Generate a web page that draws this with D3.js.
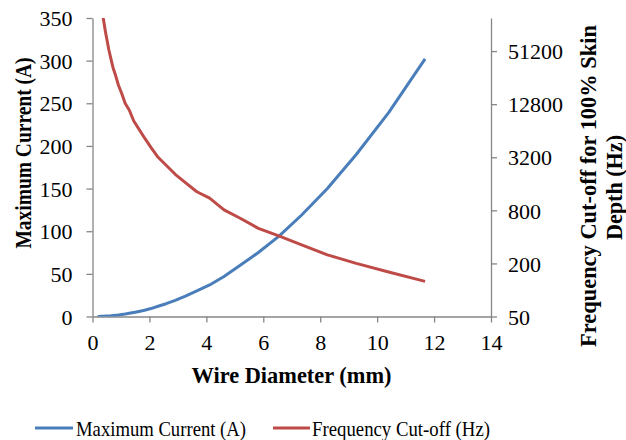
<!DOCTYPE html>
<html>
<head>
<meta charset="utf-8">
<script src="https://cdn.jsdelivr.net/npm/d3@7"></script>
<style>
  html, body { margin: 0; padding: 0; background: #fff; }
  svg { display: block; }
</style>
</head>
<body>
<svg id="chart" width="626" height="440"></svg>
<script>
// AWG wire sizes (33 up to 0000): diameter, max current for power transmission,
// and the highest frequency with 100% skin depth.
const diameters = [0.18034, 0.2032, 0.22606, 0.254, 0.28702, 0.32004, 0.36068, 0.40386, 0.45466,
  0.51054, 0.57404, 0.64516, 0.7239, 0.8128, 0.91186, 1.02362, 1.15062, 1.29032, 1.45034,
  1.62814, 1.8288, 2.05232, 2.30378, 2.58826, 2.90576, 3.2639, 3.66522, 4.1148, 4.62026,
  5.18922, 5.82676, 6.54304, 7.34822, 8.25246, 9.26592, 10.40384, 11.684];
const maxCurrent = [0.072, 0.091, 0.113, 0.142, 0.182, 0.226, 0.288, 0.361, 0.457,
  0.577, 0.729, 0.92, 1.2, 1.5, 1.8, 2.3, 2.9, 3.7, 4.7,
  5.9, 7.4, 9.3, 12, 15, 19, 24, 30, 37, 47,
  60, 75, 94, 119, 150, 190, 239, 302];
const freqCutoff = [540000, 430000, 340000, 270000, 210000, 170000, 130000, 107000, 85000,
  68000, 53000, 42000, 33000, 27000, 21000, 17000, 13000, 11000, 8250,
  6700, 5300, 4150, 3200, 2600, 2050, 1650, 1300, 1100, 810,
  650, 500, 410, 325, 250, 200, 160, 125];

const xTicks = [0, 2, 4, 6, 8, 10, 12, 14];
const leftTicks = [0, 50, 100, 150, 200, 250, 300, 350];
const rightTicks = [50, 200, 800, 3200, 12800, 51200];

const seriesNames = ["Maximum Current (A)", "Frequency Cut-off (Hz)"];
const colors = ["#4a7ebb", "#be4b48"];
const axisColor = "#868686";
const FONT = "'Liberation Serif', 'Times New Roman', serif";

const plot = { left: 92.5, right: 491, top: 18, bottom: 316.5 };

const svg = d3.select("#chart").style("font-family", FONT);

const x = d3.scaleLinear().domain([0, 14]).range([plot.left, plot.right]);
const yL = d3.scaleLinear().domain([0, 350]).range([plot.bottom, plot.top]);
const yR = d3.scaleLog().base(4).domain([50, 121500]).range([plot.bottom, plot.top]);

svg.append("defs").append("clipPath").attr("id", "plotClip")
  .append("rect")
  .attr("x", plot.left).attr("y", plot.top)
  .attr("width", plot.right - plot.left).attr("height", plot.bottom - plot.top);

function styleAxis(g, dy) {
  g.attr("font-family", null);
  g.select(".domain").attr("stroke", axisColor).attr("stroke-width", 1.3);
  g.selectAll(".tick line").attr("stroke", axisColor).attr("stroke-width", 1.3);
  const t = g.selectAll(".tick text").attr("fill", "#000")
    .style("font-family", FONT).style("font-size", "22px");
  if (dy) t.attr("dy", dy);
}

// Bottom axis
const gx = svg.append("g").attr("transform", `translate(0,${plot.bottom})`)
  .call(d3.axisBottom(x).tickValues(xTicks).tickSize(6).tickSizeOuter(0).tickPadding(12).tickFormat(d3.format("d")));
styleAxis(gx);

// Left axis
const gl = svg.append("g").attr("transform", `translate(${plot.left},0)`)
  .call(d3.axisLeft(yL).tickValues(leftTicks).tickSize(6).tickSizeOuter(0).tickPadding(14).tickFormat(d3.format("d")));
styleAxis(gl, "0.35em");

// Right axis (log base 4)
const gr = svg.append("g").attr("transform", `translate(${plot.right},0)`)
  .call(d3.axisRight(yR).tickValues(rightTicks).tickSize(6).tickSizeOuter(0).tickPadding(11).tickFormat(d3.format("d")));
styleAxis(gr, "0.35em");

// Series lines
const lineCurrent = d3.line()
  .x((d, i) => x(diameters[i]))
  .y(d => yL(d));
const lineFreq = d3.line()
  .x((d, i) => x(diameters[i]))
  .y(d => yR(d));

const lines = svg.append("g").attr("clip-path", "url(#plotClip)");
lines.append("path").datum(maxCurrent)
  .attr("d", lineCurrent)
  .attr("fill", "none").attr("stroke", colors[0]).attr("stroke-width", 3)
  .attr("stroke-linejoin", "round");
lines.append("path").datum(freqCutoff)
  .attr("d", lineFreq)
  .attr("fill", "none").attr("stroke", colors[1]).attr("stroke-width", 3)
  .attr("stroke-linejoin", "round");

function title(sel, size) {
  return sel.style("font-family", FONT).style("font-size", size + "px")
    .style("font-weight", "bold").attr("fill", "#000").attr("text-anchor", "middle")
    .attr("lengthAdjust", "spacingAndGlyphs");
}

// Axis titles
svg.append("text").call(title, 23)
  .attr("x", 291.5).attr("y", 383)
  .attr("textLength", 200)
  .text("Wire Diameter (mm)");

svg.append("text").call(title, 23)
  .attr("transform", "translate(31,153) rotate(-90)")
  .attr("textLength", 191)
  .text("Maximum Current (A)");

svg.append("text").call(title, 23)
  .attr("transform", "translate(596,186) rotate(-90)")
  .attr("textLength", 322)
  .text("Frequency Cut-off for 100% Skin");
svg.append("text").call(title, 23)
  .attr("transform", "translate(622,187.5) rotate(-90)")
  .attr("textLength", 105)
  .text("Depth (Hz)");

// Legend
const legend = svg.append("g");
const legendItems = [
  { x1: 35, x2: 73, tx: 76, len: 170 },
  { x1: 273, x2: 310, tx: 312, len: 178 }
];
legendItems.forEach((it, i) => {
  legend.append("line")
    .attr("x1", it.x1).attr("x2", it.x2).attr("y1", 428).attr("y2", 428)
    .attr("stroke", colors[i]).attr("stroke-width", 3);
  legend.append("text")
    .attr("x", it.tx).attr("y", 436)
    .style("font-family", FONT).style("font-size", "22px").attr("fill", "#000")
    .attr("textLength", it.len).attr("lengthAdjust", "spacingAndGlyphs")
    .text(seriesNames[i]);
});
</script>
</body>
</html>
